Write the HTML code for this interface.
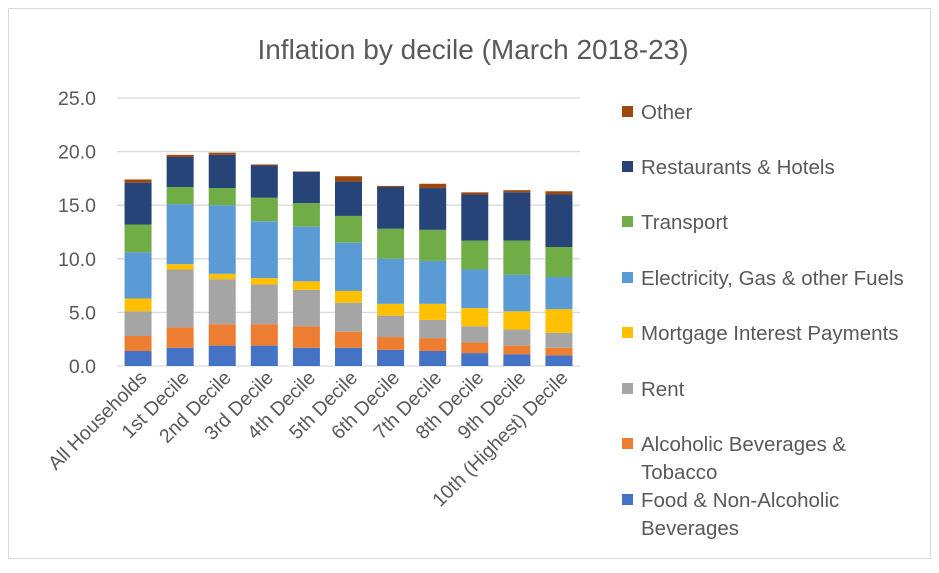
<!DOCTYPE html>
<html><head><meta charset="utf-8"><style>
body{margin:0;background:#fff;}
svg text{font-family:"Liberation Sans",sans-serif;fill:#595959;}
</style></head><body>
<svg width="939" height="568">
<rect x="8.5" y="8.5" width="922" height="550" fill="#fff" stroke="#d9d9d9"/>
<text x="473" y="59" font-size="28" text-anchor="middle">Inflation by decile (March 2018-23)</text>
<g id="grid"></g><g id="bars"></g><g id="ylab"></g><g id="xlab"></g><g id="legend"></g>
</svg>
<script>
const categories=["All Households","1st  Decile","2nd  Decile","3rd  Decile","4th  Decile","5th  Decile","6th  Decile","7th  Decile","8th  Decile","9th  Decile","10th (Highest) Decile"];
const seriesNames=["Food & Non-Alcoholic Beverages","Alcoholic Beverages & Tobacco","Rent","Mortgage Interest Payments","Electricity, Gas & other Fuels","Transport","Restaurants & Hotels","Other"];
const seriesColors=["#4472c4","#ed7d31","#a5a5a5","#ffc000","#5b9bd5","#70ad47","#264478","#9e480e"];
const food=[1.4,1.7,1.9,1.9,1.7,1.7,1.5,1.4,1.2,1.1,1.0];
const alcohol=[1.4,1.9,2.0,2.0,2.0,1.5,1.2,1.2,1.0,0.8,0.7];
const rent=[2.3,5.4,4.2,3.7,3.4,2.7,2.0,1.7,1.5,1.5,1.4];
const mortgage=[1.2,0.5,0.5,0.6,0.8,1.1,1.1,1.5,1.7,1.7,2.2];
const electricity=[4.3,5.6,6.4,5.3,5.1,4.5,4.2,4.0,3.6,3.4,3.0];
const transport=[2.6,1.6,1.6,2.2,2.2,2.5,2.8,2.9,2.7,3.2,2.8];
const restaurants=[3.9,2.8,3.1,3.0,2.9,3.2,3.9,3.9,4.3,4.5,4.9];
const other=[0.3,0.2,0.2,0.1,0.05,0.5,0.1,0.4,0.2,0.2,0.3];
const series=[food,alcohol,rent,mortgage,electricity,transport,restaurants,other];
const yTicks=["0.0","5.0","10.0","15.0","20.0","25.0"];
const NS="http://www.w3.org/2000/svg";
const x0=117,x1=580,y0=366,yTop=98,yMax=25;
const step=(x1-x0)/categories.length;
const xC=i=>x0+step*(i+0.5);
const yS=v=>y0-(v/yMax)*(y0-yTop);
function mk(t,a,p){const e=document.createElementNS(NS,t);for(const k in a)e.setAttribute(k,a[k]);p.appendChild(e);return e;}
const grid=document.getElementById('grid'),ylab=document.getElementById('ylab');
yTicks.forEach(t=>{const v=parseFloat(t);
 const l=mk('line',{x1:x0,x2:x1,y1:yS(v),y2:yS(v),stroke:'#d9d9d9','stroke-width':1.3},grid);
 
 
 const tx=mk('text',{x:96,y:yS(v)+7,'font-size':19.5,'text-anchor':'end'},ylab);tx.textContent=t;
 
 
});
const bars=document.getElementById('bars');const bw=27;
categories.forEach((c,i)=>{let cum=0;
 series.forEach((s,k)=>{const v=s[i];
  const r=mk('rect',{x:xC(i)-bw/2,y:yS(cum+v),width:bw,height:Math.max(0,yS(cum)-yS(cum+v)),fill:seriesColors[k]},bars);
  
  
  cum+=v;});
});
const xl=document.getElementById('xlab');
categories.forEach((c,i)=>{const x=xC(i)+10,y=379;
 const t=mk('text',{x:x,y:y,'font-size':19.5,'text-anchor':'end',transform:`rotate(-45 ${x} ${y})`},xl);t.textContent=c;
 
 
});
const lg=document.getElementById('legend');
const legY=[112,167,222,278,333,389,444,500];
const legLines=[["Other"],["Restaurants & Hotels"],["Transport"],["Electricity, Gas & other Fuels"],["Mortgage Interest Payments"],["Rent"],["Alcoholic Beverages &","Tobacco"],["Food & Non-Alcoholic","Beverages"]];
const legIdx=[7,6,5,4,3,2,1,0];
legIdx.forEach((k,j)=>{const y=legY[j];
 const r=mk('rect',{x:622,y:y-6,width:11,height:11,fill:seriesColors[k]},lg);
 
 
 legLines[j].forEach((ln,m)=>{const t=mk('text',{x:641,y:y+7+m*28,'font-size':20.5},lg);t.textContent=ln;
  
  });
});
</script>
</body></html>
